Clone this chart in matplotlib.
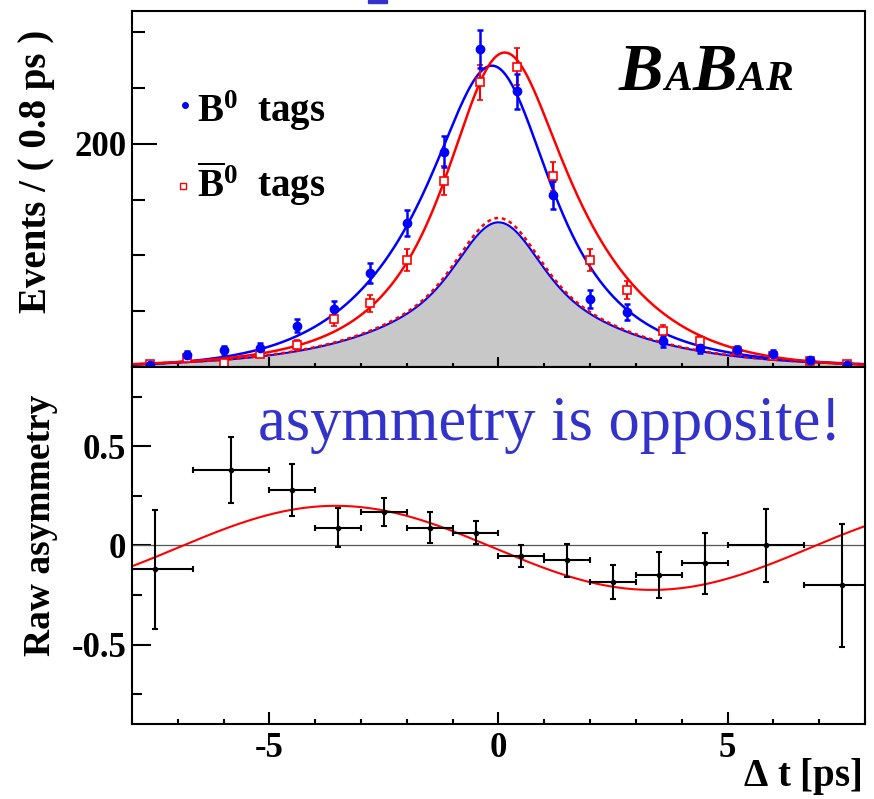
import math
import numpy as np
import matplotlib
matplotlib.use('Agg')
import matplotlib.pyplot as plt
from matplotlib.ticker import MultipleLocator, FixedLocator, FuncFormatter, NullFormatter
from matplotlib.patches import Rectangle

plt.rcParams['font.family'] = 'Liberation Serif'
plt.rcParams['font.weight'] = 'bold'
plt.rcParams['mathtext.fontset'] = 'custom'
plt.rcParams['mathtext.rm'] = 'Liberation Serif:bold'
plt.rcParams['mathtext.bf'] = 'Liberation Serif:bold'
plt.rcParams['mathtext.it'] = 'Liberation Serif:bold:italic'
plt.rcParams['axes.unicode_minus'] = False

# top panel: events per 0.8 ps bin
dt_centers = [-7.6, -6.8, -6.0, -5.2, -4.4, -3.6, -2.8, -2.0, -1.2, -0.4,
              0.4, 1.2, 2.0, 2.8, 3.6, 4.4, 5.2, 6.0, 6.8, 7.6]
b0_counts = [2, 11, 15, 17, 37, 52, 84, 129, 193, 285,
             247, 154, 61, 49, 23, 17, 15, 12, 6, 2]
b0_err = [1.5, 3.3, 3.9, 4.1, 6, 7.2, 9.2, 11.4, 13.9, 16.9,
          15.7, 12.4, 7.8, 7, 4.8, 4.1, 3.9, 3.5, 2.4, 1.5]
b0bar_counts = [3, 8, 4, 12, 20, 43, 57, 96, 167, 255,
                269, 171, 96, 69, 32, 23, 14, 10, 5, 3]
b0bar_err = [1.7, 2.8, 2, 3.5, 4.5, 6.6, 7.5, 9.8, 12.9, 16,
             16.4, 13.1, 9.8, 8.3, 5.7, 4.8, 3.7, 3.2, 2.2, 1.7]

# bottom panel: raw asymmetry
asym_x = [-7.5, -5.83, -4.5, -3.5, -2.5, -1.5, -0.5, 0.5, 1.5, 2.5, 3.5, 4.5, 5.83, 7.5]
asym_xerr = [0.83, 0.83, 0.5, 0.5, 0.5, 0.5, 0.5, 0.5, 0.5, 0.5, 0.5, 0.5, 0.83, 0.83]
asym_y = [-0.12, 0.38, 0.28, 0.09, 0.17, 0.09, 0.065, -0.055, -0.075, -0.185,
          -0.15, -0.09, 0.0, -0.2]
asym_yerr = [0.30, 0.165, 0.13, 0.10, 0.07, 0.08, 0.06, 0.056, 0.083, 0.085,
             0.115, 0.155, 0.186, 0.31]

# fit parameters
n_sig = 274
tau_sig, sigma_sig = 1.55, 0.63
amp, dm, t0, off = 0.212, 0.455, -0.1, -0.012
n_bkg_tail, tau_bkg, sigma_bkg = 97.6, 2.0, 0.6
n_bkg_core, width_core = 32, 0.72


def conv_exp(t, tau, sigma):
    # exp(-|t|/tau) convolved with gaussian resolution, normalised to 1 at t=0
    c = math.exp(sigma ** 2 / (2 * tau ** 2))
    def f(x):
        a = math.exp(-x / tau) * math.erfc((sigma / tau - x / sigma) / math.sqrt(2))
        b = math.exp(x / tau) * math.erfc((sigma / tau + x / sigma) / math.sqrt(2))
        return c * (a + b)
    return np.array([f(x) for x in t]) / f(0.0)


tt = np.linspace(-8, 8, 801)
asym_fit = -amp * np.sin(dm * (tt - t0)) + off
sig = conv_exp(tt, tau_sig, sigma_sig)
blue_fit = n_sig * sig * (1 + asym_fit)
red_fit = n_sig * sig * (1 - asym_fit)
bkg = n_bkg_tail * conv_exp(tt, tau_bkg, sigma_bkg) + n_bkg_core * np.exp(-tt ** 2 / (2 * width_core ** 2))

fig = plt.figure(figsize=(8.74, 7.99), dpi=100)
ax = fig.add_axes([0.151, 0.5407, 0.8387, 0.4456])
ax2 = fig.add_axes([0.151, 0.0939, 0.8387, 0.4468])

# top panel
ax.fill_between(tt, 0, bkg, color='#c8c8c8', lw=0)
ax.plot(tt, bkg, color='blue', lw=1.5)
ax.plot(tt, bkg * 1.03, color='red', lw=1.8, ls=(0, (1.5, 1.5)))
ax.plot(tt, blue_fit, color='blue', lw=1.8)
ax.plot(tt, red_fit, color='red', lw=1.8)
ax.errorbar(dt_centers, b0bar_counts, yerr=b0bar_err, fmt='s', ms=6, mfc='white',
            mec='red', mew=1.2, color='red', elinewidth=1.5, capsize=2, capthick=1.5)
ax.errorbar(dt_centers, b0_counts, yerr=b0_err, fmt='o', ms=6, color='blue',
            elinewidth=1.8, capsize=2, capthick=1.8)
ax.set_xlim(-8, 8)
ax.set_ylim(0, 319)
ax.xaxis.set_major_locator(MultipleLocator(5))
ax.xaxis.set_minor_locator(MultipleLocator(1))
ax.xaxis.set_major_formatter(NullFormatter())
ax.yaxis.set_major_locator(FixedLocator([200]))
ax.yaxis.set_minor_locator(MultipleLocator(50))
ax.tick_params(axis='y', which='major', direction='in', length=18, width=1.5,
               labelsize=25, pad=4, right=False)
ax.tick_params(axis='y', which='minor', direction='in', length=9, width=1.5, right=False)
ax.tick_params(axis='x', which='major', direction='in', length=7, width=1.5, top=False)
ax.tick_params(axis='x', which='minor', direction='in', length=3, width=1.5, top=False)

# legend, drawn by hand
ax.plot([0.072], [0.736], 'o', color='blue', ms=4, transform=ax.transAxes)
ax.text(0.0887, 0.688, r'B$^{0}$  tags', transform=ax.transAxes, fontsize=28, va='baseline')
ax.plot([0.069], [0.508], 's', mfc='white', mec='red', mew=1, ms=5, transform=ax.transAxes)
ax.text(0.0887, 0.478, r'$\overline{\mathrm{B}}^{0}$  tags', transform=ax.transAxes,
        fontsize=28, va='baseline')

# BABAR logo
for ch, xpos, size in [('B', 0.664, 48), ('A', 0.7255, 30), ('B', 0.7645, 48),
                       ('A', 0.8252, 30), ('R', 0.8635, 30)]:
    ax.text(xpos, 0.778, ch, transform=ax.transAxes, fontsize=size, style='italic',
            weight='bold', va='baseline')

# bottom panel
ax2.axhline(0, color='#555555', lw=0.9)
ax2.plot(tt, asym_fit, color='red', lw=1.5)
ax2.errorbar(asym_x, asym_y, xerr=asym_xerr, yerr=asym_yerr, fmt='o', ms=3,
             color='black', elinewidth=1.5, capsize=2, capthick=1.5)
ax2.set_xlim(-8, 8)
ax2.set_ylim(-0.9, 0.9)
ax2.xaxis.set_major_locator(MultipleLocator(5))
ax2.xaxis.set_minor_locator(MultipleLocator(1))
ax2.yaxis.set_major_locator(MultipleLocator(0.5))
ax2.yaxis.set_minor_locator(MultipleLocator(0.25))
ax2.yaxis.set_major_formatter(FuncFormatter(lambda v, p: '%g' % v))
ax2.tick_params(axis='y', which='major', direction='in', length=14, width=1.5,
                labelsize=25, pad=4, right=False)
ax2.tick_params(axis='y', which='minor', direction='in', length=7, width=1.5, right=False)
ax2.tick_params(axis='x', which='major', direction='in', length=8.5, width=1.5,
                labelsize=25, pad=6, top=False)
ax2.tick_params(axis='x', which='minor', direction='in', length=3.5, width=1.5, top=False)
ax2.text(0.172, 0.795, 'asymmetry is opposite!', transform=ax2.transAxes, fontsize=45,
         weight='normal', color='#3333cc', va='baseline')

for a in (ax, ax2):
    for s in a.spines.values():
        s.set_linewidth(1.5)

fig.text(0.042, 0.786, 'Events / ( 0.8 ps )', rotation=90, ha='center', va='center', fontsize=28)
fig.text(0.046, 0.343, 'Raw asymmetry', rotation=90, ha='center', va='center', fontsize=27)
fig.text(0.986, 0.016, r'$\Delta$ t [ps]', ha='right', va='baseline', fontsize=28)

fig.patches.append(Rectangle((368 / 874, 796 / 799), 19 / 874, 3 / 799,
                             transform=fig.transFigure, color='#3333cc'))

fig.savefig('out.png', dpi=100)
